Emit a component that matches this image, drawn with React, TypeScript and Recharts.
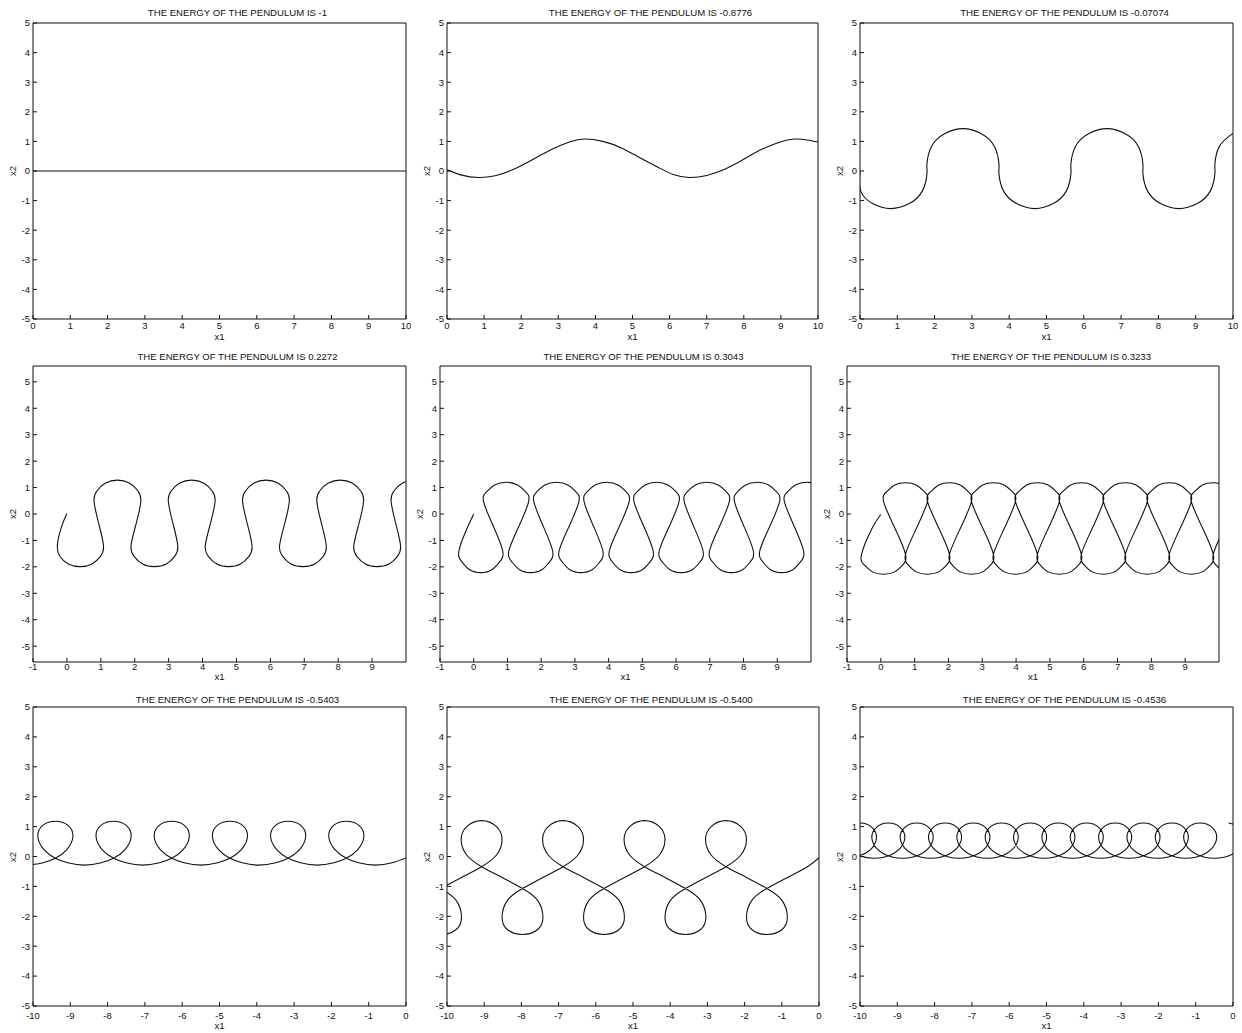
import React from 'react'
import { LineChart, Line, XAxis, YAxis } from 'recharts'

type Pt = [number, number]

// energy values shown in the panel titles
const energies = ['-1', '-0.8776', '-0.07074', '0.2272', '0.3043', '0.3233', '-0.5403', '-0.5400', '-0.4536']

const ticks0to10 = [0, 1, 2, 3, 4, 5, 6, 7, 8, 9, 10]
const ticksM1to9 = [-1, 0, 1, 2, 3, 4, 5, 6, 7, 8, 9]
const ticksM10to0 = [-10, -9, -8, -7, -6, -5, -4, -3, -2, -1, 0]
const ticksY = [-5, -4, -3, -2, -1, 0, 1, 2, 3, 4, 5]

// trajectories (x1, x2)
const curveFlat: Pt[] = [[0, 0], [10, 0]]

const curveWave: Pt[] = [
  [0, 0.04], [0.4, -0.14], [0.83, -0.22], [1.3, -0.16], [1.8, 0.06], [2.3, 0.38], [2.8, 0.72], [3.3, 0.98],
  [3.71, 1.08], [4.2, 1.0], [4.7, 0.78], [5.2, 0.45], [5.7, 0.12], [6.1, -0.12], [6.53, -0.22], [7.0, -0.15],
  [7.5, 0.07], [8.0, 0.4], [8.5, 0.74], [9.0, 0.99], [9.38, 1.08], [9.7, 1.05], [10, 0.98],
]

const curveHumps: Pt[] = [
  [0, -0.05], [0.02, -0.68], [0.35, -1.11], [0.83, -1.27], [1.31, -1.11], [1.67, -0.68], [1.795, -0.08],
  [1.795, 0.24], [1.92, 0.84], [2.28, 1.27], [2.76, 1.43], [3.24, 1.27], [3.6, 0.84], [3.725, 0.24],
  [3.725, -0.08], [3.85, -0.68], [4.21, -1.11], [4.69, -1.27], [5.17, -1.11], [5.53, -0.68], [5.655, -0.08],
  [5.655, 0.24], [5.78, 0.84], [6.14, 1.27], [6.62, 1.43], [7.1, 1.27], [7.46, 0.84], [7.585, 0.24],
  [7.585, -0.08], [7.71, -0.68], [8.07, -1.11], [8.55, -1.27], [9.03, -1.11], [9.39, -0.68], [9.515, -0.08],
  [9.515, 0.24], [9.64, 0.84], [10.0, 1.27],
]

const curveSnake: Pt[] = [
  [0, 0.02], [-0.15, -0.45],
  [-0.28, -1.15], [-0.21, -1.6], [0.04, -1.89], [0.39, -1.99], [0.74, -1.89], [0.99, -1.6], [1.08, -1.21], [0.94, -0.37],
  [0.8, 0.48], [0.89, 0.88], [1.14, 1.17], [1.49, 1.28], [1.84, 1.17], [2.09, 0.88], [2.18, 0.48], [2.04, -0.37],
  [1.89, -1.21], [1.98, -1.6], [2.23, -1.89], [2.58, -1.99], [2.93, -1.89], [3.18, -1.6], [3.27, -1.21], [3.13, -0.37],
  [2.99, 0.48], [3.08, 0.88], [3.33, 1.17], [3.68, 1.28], [4.03, 1.17], [4.28, 0.88], [4.37, 0.48], [4.23, -0.37],
  [4.08, -1.21], [4.17, -1.6], [4.42, -1.89], [4.77, -1.99], [5.12, -1.89], [5.37, -1.6], [5.46, -1.21], [5.32, -0.37],
  [5.18, 0.48], [5.27, 0.88], [5.52, 1.17], [5.87, 1.28], [6.22, 1.17], [6.47, 0.88], [6.56, 0.48], [6.42, -0.37],
  [6.27, -1.21], [6.36, -1.6], [6.61, -1.89], [6.96, -1.99], [7.31, -1.89], [7.56, -1.6], [7.65, -1.21], [7.51, -0.37],
  [7.37, 0.48], [7.46, 0.88], [7.71, 1.17], [8.06, 1.28], [8.41, 1.17], [8.66, 0.88], [8.75, 0.48], [8.61, -0.37],
  [8.46, -1.21], [8.55, -1.6], [8.8, -1.89], [9.15, -1.99], [9.5, -1.89], [9.75, -1.6], [9.84, -1.21], [9.7, -0.37],
  [9.56, 0.48], [9.65, 0.88], [9.9, 1.17], [10.25, 1.28], [10.6, 1.17],
]

const curveDrops: Pt[] = [
  [0, 0], [-0.2, -0.55],
  [-0.44, -1.4], [-0.35, -1.81], [-0.12, -2.11], [0.21, -2.22], [0.54, -2.11], [0.77, -1.81], [0.86, -1.4], [0.58, -0.46],
  [0.29, 0.48], [0.38, 0.84], [0.62, 1.1], [0.96, 1.2], [1.3, 1.1], [1.54, 0.84], [1.63, 0.48], [1.34, -0.46],
  [1.04, -1.4], [1.13, -1.81], [1.36, -2.11], [1.69, -2.22], [2.02, -2.11], [2.25, -1.81], [2.34, -1.4], [2.06, -0.46],
  [1.78, 0.48], [1.87, 0.84], [2.11, 1.1], [2.45, 1.2], [2.79, 1.1], [3.03, 0.84], [3.12, 0.48], [2.83, -0.46],
  [2.53, -1.4], [2.62, -1.81], [2.85, -2.11], [3.18, -2.22], [3.51, -2.11], [3.74, -1.81], [3.83, -1.4], [3.55, -0.46],
  [3.27, 0.48], [3.36, 0.84], [3.6, 1.1], [3.94, 1.2], [4.28, 1.1], [4.52, 0.84], [4.61, 0.48], [4.32, -0.46],
  [4.02, -1.4], [4.11, -1.81], [4.34, -2.11], [4.67, -2.22], [5.0, -2.11], [5.23, -1.81], [5.32, -1.4], [5.04, -0.46],
  [4.75, 0.48], [4.84, 0.84], [5.08, 1.1], [5.42, 1.2], [5.76, 1.1], [6.0, 0.84], [6.09, 0.48], [5.8, -0.46],
  [5.5, -1.4], [5.59, -1.81], [5.82, -2.11], [6.15, -2.22], [6.48, -2.11], [6.71, -1.81], [6.8, -1.4], [6.52, -0.46],
  [6.24, 0.48], [6.33, 0.84], [6.57, 1.1], [6.91, 1.2], [7.25, 1.1], [7.49, 0.84], [7.58, 0.48], [7.29, -0.46],
  [6.99, -1.4], [7.08, -1.81], [7.31, -2.11], [7.64, -2.22], [7.97, -2.11], [8.2, -1.81], [8.29, -1.4], [8.01, -0.46],
  [7.73, 0.48], [7.82, 0.84], [8.06, 1.1], [8.4, 1.2], [8.74, 1.1], [8.98, 0.84], [9.07, 0.48], [8.78, -0.46],
  [8.48, -1.4], [8.57, -1.81], [8.8, -2.11], [9.13, -2.22], [9.46, -2.11], [9.69, -1.81], [9.78, -1.4], [9.5, -0.46],
  [9.21, 0.48], [9.3, 0.84], [9.54, 1.1], [9.88, 1.2], [10.22, 1.1], [10.46, 0.84],
]

const curveChain: Pt[] = [
  [0, -0.02], [-0.25, -0.52],
  [-0.57, -1.53], [-0.48, -1.94], [-0.25, -2.19], [0.08, -2.28], [0.41, -2.19], [0.64, -1.94], [0.73, -1.53], [0.41, -0.52],
  [0.08, 0.48], [0.17, 0.84], [0.4, 1.09], [0.73, 1.18], [1.06, 1.09], [1.29, 0.84], [1.38, 0.48], [1.06, -0.52],
  [0.73, -1.53], [0.82, -1.94], [1.05, -2.19], [1.38, -2.28], [1.71, -2.19], [1.94, -1.94], [2.03, -1.53], [1.71, -0.52],
  [1.38, 0.48], [1.47, 0.84], [1.7, 1.09], [2.03, 1.18], [2.36, 1.09], [2.59, 0.84], [2.68, 0.48], [2.36, -0.52],
  [2.03, -1.53], [2.12, -1.94], [2.35, -2.19], [2.68, -2.28], [3.01, -2.19], [3.24, -1.94], [3.33, -1.53], [3.01, -0.52],
  [2.68, 0.48], [2.77, 0.84], [3.0, 1.09], [3.33, 1.18], [3.66, 1.09], [3.89, 0.84], [3.98, 0.48], [3.66, -0.52],
  [3.33, -1.53], [3.42, -1.94], [3.65, -2.19], [3.98, -2.28], [4.31, -2.19], [4.54, -1.94], [4.63, -1.53], [4.31, -0.52],
  [3.98, 0.48], [4.07, 0.84], [4.3, 1.09], [4.63, 1.18], [4.96, 1.09], [5.19, 0.84], [5.28, 0.48], [4.96, -0.52],
  [4.63, -1.53], [4.72, -1.94], [4.95, -2.19], [5.28, -2.28], [5.61, -2.19], [5.84, -1.94], [5.93, -1.53], [5.61, -0.52],
  [5.28, 0.48], [5.37, 0.84], [5.6, 1.09], [5.93, 1.18], [6.26, 1.09], [6.49, 0.84], [6.58, 0.48], [6.26, -0.52],
  [5.93, -1.53], [6.02, -1.94], [6.25, -2.19], [6.58, -2.28], [6.91, -2.19], [7.14, -1.94], [7.23, -1.53], [6.91, -0.52],
  [6.58, 0.48], [6.67, 0.84], [6.9, 1.09], [7.23, 1.18], [7.56, 1.09], [7.79, 0.84], [7.88, 0.48], [7.56, -0.52],
  [7.23, -1.53], [7.32, -1.94], [7.55, -2.19], [7.88, -2.28], [8.21, -2.19], [8.44, -1.94], [8.53, -1.53], [8.21, -0.52],
  [7.88, 0.48], [7.97, 0.84], [8.2, 1.09], [8.53, 1.18], [8.86, 1.09], [9.09, 0.84], [9.18, 0.48], [8.86, -0.52],
  [8.53, -1.53], [8.62, -1.94], [8.85, -2.19], [9.18, -2.28], [9.51, -2.19], [9.74, -1.94], [9.83, -1.53], [9.51, -0.52],
  [9.18, 0.48], [9.27, 0.84], [9.5, 1.09], [9.83, 1.18], [10.16, 1.09], [10.39, 0.84], [10.48, 0.48], [10.16, -0.52],
  [9.83, -1.53], [9.92, -1.94], [10.15, -2.19], [10.48, -2.28],
]

const curveLoopsUp: Pt[] = [
  [-10, -0.27], [-9.73, -0.21],
  [-9.4, -0.06], [-9.1, 0.22], [-8.93, 0.67], [-9.07, 1.05], [-9.4, 1.18], [-9.73, 1.05], [-9.87, 0.67], [-9.7, 0.22],
  [-9.4, -0.06], [-9.07, -0.21], [-8.62, -0.29], [-8.17, -0.21],
  [-7.84, -0.06], [-7.54, 0.22], [-7.37, 0.67], [-7.51, 1.05], [-7.84, 1.18], [-8.17, 1.05], [-8.31, 0.67], [-8.14, 0.22],
  [-7.84, -0.06], [-7.51, -0.21], [-7.06, -0.29], [-6.61, -0.21],
  [-6.28, -0.06], [-5.98, 0.22], [-5.81, 0.67], [-5.95, 1.05], [-6.28, 1.18], [-6.61, 1.05], [-6.75, 0.67], [-6.58, 0.22],
  [-6.28, -0.06], [-5.95, -0.21], [-5.5, -0.29], [-5.05, -0.21],
  [-4.72, -0.06], [-4.42, 0.22], [-4.25, 0.67], [-4.39, 1.05], [-4.72, 1.18], [-5.05, 1.05], [-5.19, 0.67], [-5.02, 0.22],
  [-4.72, -0.06], [-4.39, -0.21], [-3.94, -0.29], [-3.49, -0.21],
  [-3.16, -0.06], [-2.86, 0.22], [-2.69, 0.67], [-2.83, 1.05], [-3.16, 1.18], [-3.49, 1.05], [-3.63, 0.67], [-3.46, 0.22],
  [-3.16, -0.06], [-2.83, -0.21], [-2.38, -0.29], [-1.93, -0.21],
  [-1.6, -0.06], [-1.3, 0.22], [-1.13, 0.67], [-1.27, 1.05], [-1.6, 1.18], [-1.93, 1.05], [-2.07, 0.67], [-1.9, 0.22],
  [-1.6, -0.06], [-1.27, -0.21], [-0.82, -0.29], [-0.37, -0.21], [0, -0.05],
]

const curveEights: Pt[] = [
  [-10.16, -1.07], [-9.76, -1.46], [-9.61, -2.03], [-9.76, -2.45], [-10.16, -2.61], [-10.56, -2.45], [-10.71, -2.03],
  [-10.56, -1.46], [-10.16, -1.07], [-9.61, -0.7],
  [-9.07, -0.34], [-8.67, 0.05], [-8.52, 0.56], [-8.67, 1.0], [-9.07, 1.2], [-9.47, 1.0], [-9.62, 0.56], [-9.47, 0.05],
  [-9.07, -0.34], [-8.52, -0.7],
  [-7.97, -1.07], [-7.57, -1.46], [-7.42, -2.03], [-7.57, -2.45], [-7.97, -2.61], [-8.37, -2.45], [-8.52, -2.03],
  [-8.37, -1.46], [-7.97, -1.07], [-7.42, -0.7],
  [-6.88, -0.34], [-6.48, 0.05], [-6.33, 0.56], [-6.48, 1.0], [-6.88, 1.2], [-7.28, 1.0], [-7.43, 0.56], [-7.28, 0.05],
  [-6.88, -0.34], [-6.33, -0.7],
  [-5.78, -1.07], [-5.38, -1.46], [-5.23, -2.03], [-5.38, -2.45], [-5.78, -2.61], [-6.18, -2.45], [-6.33, -2.03],
  [-6.18, -1.46], [-5.78, -1.07], [-5.23, -0.7],
  [-4.69, -0.34], [-4.29, 0.05], [-4.14, 0.56], [-4.29, 1.0], [-4.69, 1.2], [-5.09, 1.0], [-5.24, 0.56], [-5.09, 0.05],
  [-4.69, -0.34], [-4.14, -0.7],
  [-3.59, -1.07], [-3.19, -1.46], [-3.04, -2.03], [-3.19, -2.45], [-3.59, -2.61], [-3.99, -2.45], [-4.14, -2.03],
  [-3.99, -1.46], [-3.59, -1.07], [-3.04, -0.7],
  [-2.5, -0.34], [-2.1, 0.05], [-1.95, 0.56], [-2.1, 1.0], [-2.5, 1.2], [-2.9, 1.0], [-3.05, 0.56], [-2.9, 0.05],
  [-2.5, -0.34], [-1.95, -0.7],
  [-1.4, -1.07], [-1.0, -1.46], [-0.85, -2.03], [-1.0, -2.45], [-1.4, -2.61], [-1.8, -2.45], [-1.95, -2.03],
  [-1.8, -1.46], [-1.4, -1.07], [-0.85, -0.7], [-0.31, -0.34], [0, -0.04],
]

const curveCoil: Pt[] = [
  [-0.12, 1.12], [0.22, 0.95], [0.31, 0.53], [0.03, 0.11],
  [-0.5, -0.06], [-1.03, 0.11], [-1.31, 0.53], [-1.22, 0.95], [-0.88, 1.12], [-0.54, 0.95], [-0.45, 0.53], [-0.73, 0.11],
  [-1.26, -0.06], [-1.79, 0.11], [-2.07, 0.53], [-1.98, 0.95], [-1.64, 1.12], [-1.3, 0.95], [-1.21, 0.53], [-1.49, 0.11],
  [-2.02, -0.06], [-2.55, 0.11], [-2.83, 0.53], [-2.74, 0.95], [-2.4, 1.12], [-2.06, 0.95], [-1.97, 0.53], [-2.25, 0.11],
  [-2.78, -0.06], [-3.31, 0.11], [-3.59, 0.53], [-3.5, 0.95], [-3.16, 1.12], [-2.82, 0.95], [-2.73, 0.53], [-3.01, 0.11],
  [-3.54, -0.06], [-4.07, 0.11], [-4.35, 0.53], [-4.26, 0.95], [-3.92, 1.12], [-3.58, 0.95], [-3.49, 0.53], [-3.77, 0.11],
  [-4.3, -0.06], [-4.83, 0.11], [-5.11, 0.53], [-5.02, 0.95], [-4.68, 1.12], [-4.34, 0.95], [-4.25, 0.53], [-4.53, 0.11],
  [-5.06, -0.06], [-5.59, 0.11], [-5.87, 0.53], [-5.78, 0.95], [-5.44, 1.12], [-5.1, 0.95], [-5.01, 0.53], [-5.29, 0.11],
  [-5.82, -0.06], [-6.35, 0.11], [-6.63, 0.53], [-6.54, 0.95], [-6.2, 1.12], [-5.86, 0.95], [-5.77, 0.53], [-6.05, 0.11],
  [-6.58, -0.06], [-7.11, 0.11], [-7.39, 0.53], [-7.3, 0.95], [-6.96, 1.12], [-6.62, 0.95], [-6.53, 0.53], [-6.81, 0.11],
  [-7.34, -0.06], [-7.87, 0.11], [-8.15, 0.53], [-8.06, 0.95], [-7.72, 1.12], [-7.38, 0.95], [-7.29, 0.53], [-7.57, 0.11],
  [-8.1, -0.06], [-8.63, 0.11], [-8.91, 0.53], [-8.82, 0.95], [-8.48, 1.12], [-8.14, 0.95], [-8.05, 0.53], [-8.33, 0.11],
  [-8.86, -0.06], [-9.39, 0.11], [-9.67, 0.53], [-9.58, 0.95], [-9.24, 1.12], [-8.9, 0.95], [-8.81, 0.53], [-9.09, 0.11],
  [-9.62, -0.06], [-10.15, 0.11], [-10.43, 0.53], [-10.34, 0.95], [-10.0, 1.12], [-9.66, 0.95], [-9.57, 0.53], [-9.85, 0.11],
  [-10.38, -0.06],
]

interface PanelProps {
  title: string
  curve: Pt[]
  xDomain: [number, number]
  xTicks: number[]
  yDomain: [number, number]
  box: { x: number; y: number; w: number; h: number }
  tickGap: number
  titleY: number
  x1Y: number
}

const FONT = '"Liberation Sans", Arial, Helvetica, sans-serif'
const INK = '#111'

function Panel({ title, curve, xDomain, xTicks, yDomain, box, tickGap, titleY, x1Y }: PanelProps) {
  const data = curve.map(([x, y]) => ({ x, y }))
  const W = 33 + box.w + 5
  const H = 5 + box.h + 24
  const axisStyle = { stroke: INK, strokeWidth: 1 }
  const tickStyle = { fill: INK, fontSize: 9.5 }

  return (
    <>
      <div
        style={{
          position: 'absolute',
          left: box.x + box.w / 2 + 18 - 160,
          width: 320,
          top: titleY - 5,
          textAlign: 'center',
          fontSize: 9.6,
          lineHeight: '10px',
          whiteSpace: 'nowrap',
        }}
      >
        {title}
      </div>
      <div style={{ position: 'absolute', left: box.x - 33, top: box.y - 5 }}>
        <LineChart width={W} height={H} margin={{ top: 4, right: 4, bottom: 0, left: 0 }}>
          <XAxis
            type="number"
            dataKey="x"
            domain={xDomain}
            ticks={xTicks}
            interval={0}
            allowDataOverflow
            height={24}
            tickSize={-4}
            tickMargin={tickGap}
            axisLine={axisStyle}
            tickLine={axisStyle}
            tick={tickStyle}
          />
          <XAxis
            xAxisId="top"
            orientation="top"
            type="number"
            domain={xDomain}
            ticks={xTicks}
            interval={0}
            allowDataOverflow
            height={1}
            tickSize={-4}
            axisLine={axisStyle}
            tickLine={axisStyle}
            tick={false}
          />
          <YAxis
            type="number"
            domain={yDomain}
            ticks={ticksY}
            interval={0}
            allowDataOverflow
            width={33}
            tickSize={-4}
            tickMargin={7}
            axisLine={axisStyle}
            tickLine={axisStyle}
            tick={tickStyle}
          />
          <YAxis
            yAxisId="right"
            orientation="right"
            type="number"
            domain={yDomain}
            ticks={ticksY}
            interval={0}
            allowDataOverflow
            width={1}
            tickSize={-4}
            axisLine={axisStyle}
            tickLine={axisStyle}
            tick={false}
          />
          <Line
            data={data}
            dataKey="y"
            type="natural"
            dot={false}
            stroke={INK}
            strokeWidth={1.1}
            isAnimationActive={false}
          />
        </LineChart>
      </div>
      <div
        style={{
          position: 'absolute',
          left: box.x + box.w / 2 - 20,
          width: 40,
          top: x1Y - 5,
          textAlign: 'center',
          fontSize: 9.6,
          lineHeight: '10px',
        }}
      >
        x1
      </div>
      <div
        style={{
          position: 'absolute',
          left: box.x - 20 - 15,
          width: 30,
          top: box.y + box.h / 2 - 5,
          textAlign: 'center',
          fontSize: 9.6,
          lineHeight: '10px',
          transform: 'rotate(-90deg)',
        }}
      >
        x2
      </div>
    </>
  )
}

export default function App() {
  const row1 = { y: 23, h: 296 }
  const row2 = { y: 366, h: 296 }
  const row3 = { y: 707, h: 299 }
  const r1 = { tickGap: 7, titleY: 12.5, x1Y: 337 }
  const r2 = { tickGap: 5, titleY: 357, x1Y: 677 }
  const r3 = { tickGap: 10, titleY: 700, x1Y: 1026 }
  const panels: PanelProps[] = [
    { title: energies[0], curve: curveFlat, xDomain: [0, 10], xTicks: ticks0to10, yDomain: [-5, 5], box: { x: 33, w: 373, ...row1 }, ...r1 },
    { title: energies[1], curve: curveWave, xDomain: [0, 10], xTicks: ticks0to10, yDomain: [-5, 5], box: { x: 447, w: 371, ...row1 }, ...r1 },
    { title: energies[2], curve: curveHumps, xDomain: [0, 10], xTicks: ticks0to10, yDomain: [-5, 5], box: { x: 860, w: 373, ...row1 }, ...r1 },
    { title: energies[3], curve: curveSnake, xDomain: [-1, 10], xTicks: ticksM1to9, yDomain: [-5.6, 5.6], box: { x: 33, w: 373, ...row2 }, ...r2 },
    { title: energies[4], curve: curveDrops, xDomain: [-1, 10], xTicks: ticksM1to9, yDomain: [-5.6, 5.6], box: { x: 440, w: 371, ...row2 }, ...r2 },
    { title: energies[5], curve: curveChain, xDomain: [-1, 10], xTicks: ticksM1to9, yDomain: [-5.6, 5.6], box: { x: 847, w: 372, ...row2 }, ...r2 },
    { title: energies[6], curve: curveLoopsUp, xDomain: [-10, 0], xTicks: ticksM10to0, yDomain: [-5, 5], box: { x: 33, w: 373, ...row3 }, ...r3 },
    { title: energies[7], curve: curveEights, xDomain: [-10, 0], xTicks: ticksM10to0, yDomain: [-5, 5], box: { x: 447, w: 372, ...row3 }, ...r3 },
    { title: energies[8], curve: curveCoil, xDomain: [-10, 0], xTicks: ticksM10to0, yDomain: [-5, 5], box: { x: 860, w: 373, ...row3 }, ...r3 },
  ]

  return (
    <div
      style={{
        position: 'absolute',
        left: 0,
        top: 0,
        width: 1242,
        height: 1033,
        background: '#fff',
        color: INK,
        fontFamily: FONT,
      }}
    >
      {panels.map((p, i) => (
        <Panel key={i} {...p} title={`THE ENERGY OF THE PENDULUM IS ${p.title}`} />
      ))}
    </div>
  )
}
